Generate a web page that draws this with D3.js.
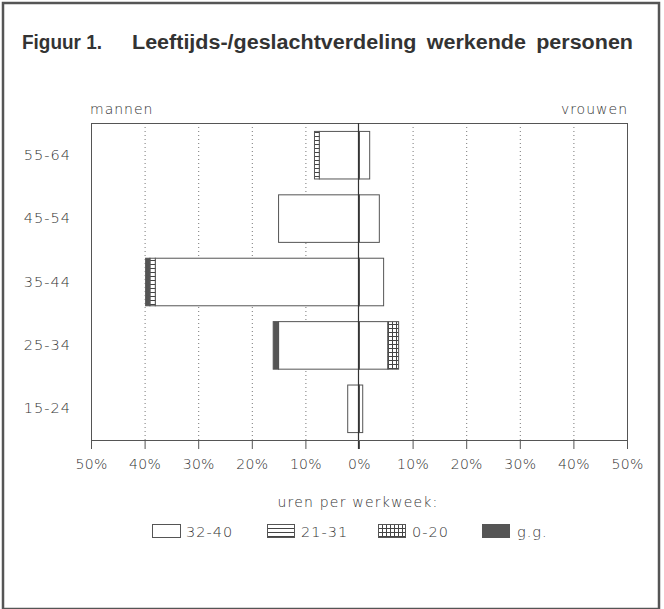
<!DOCTYPE html>
<html><head><meta charset="utf-8">
<script src="https://cdn.jsdelivr.net/npm/d3@7"></script>
<style>
body{margin:0;background:#fff;}
svg{display:block;}
.lt{font-family:"DejaVu Sans",Lato,sans-serif;font-weight:200;fill:#333;}
</style></head>
<body>
<script>
// ---- data ----
const categories = ["55-64","45-54","35-44","25-34","15-24"];
const hourGroups = ["32-40","21-31","0-20","g.g."];
const men_32_40   = [7.5, 15.1, 38.1, 15.1, 2.2];
const men_21_31   = [0.9, 0,    1.0,  0,    0];
const men_0_20    = [0,   0,    0,    0,    0];
const men_gg      = [0,   0,    0.8,  1.0,  0];
const women_32_40 = [1.9, 3.7,  4.5,  5.3,  0.6];
const women_21_31 = [0,   0,    0,    0,    0];
const women_0_20  = [0,   0,    0,    2.0,  0];
const women_gg    = [0,   0,    0,    0,    0];
const tickValues = [-50,-40,-30,-20,-10,0,10,20,30,40,50];
const tickLabels = ["50%","40%","30%","20%","10%","0%","10%","20%","30%","40%","50%"];
const titleA = "Figuur 1.";
const titleB = "Leeftijds-/geslachtverdeling werkende personen";
const legendTitle = "uren per werkweek:";

const W = 664, H = 609;
const svg = d3.select("body").append("svg").attr("width", W).attr("height", H);
const defs = svg.append("defs");

// patterns
const ph = defs.append("pattern").attr("id","p2131").attr("patternUnits","userSpaceOnUse")
  .attr("width",4).attr("height",4);
ph.append("rect").attr("width",4).attr("height",4).attr("fill","#fff");
ph.append("line").attr("x1",0).attr("x2",4).attr("y1",0.5).attr("y2",0.5).attr("stroke","#444").attr("stroke-width",1);
const pg = defs.append("pattern").attr("id","p020").attr("patternUnits","userSpaceOnUse")
  .attr("width",4).attr("height",4);
pg.append("rect").attr("width",4).attr("height",4).attr("fill","#fff");
pg.append("line").attr("x1",0).attr("x2",4).attr("y1",0.5).attr("y2",0.5).attr("stroke","#444");
pg.append("line").attr("y1",0).attr("y2",4).attr("x1",0.5).attr("x2",0.5).attr("stroke","#444");
const fills = {"32-40":"#fff","21-31":"url(#p2131)","0-20":"url(#p020)","g.g.":"#555"};

// outer frame
svg.append("rect").attr("x",3).attr("y",3).attr("width",656).attr("height",606)
  .attr("fill","none").attr("stroke","#555").attr("stroke-width",2.5);

// title
svg.append("text").attr("x",22).attr("y",49).text(titleA)
  .attr("textLength",80).attr("lengthAdjust","spacingAndGlyphs")
  .style("font-family","'Liberation Sans',Arial,sans-serif").style("font-weight","bold")
  .style("font-size","20px").attr("fill","#333");
svg.append("text").attr("x",132).attr("y",49).text(titleB)
  .attr("textLength",501).attr("lengthAdjust","spacingAndGlyphs")
  .style("font-family","'Liberation Sans',Arial,sans-serif").style("font-weight","bold")
  .style("font-size","20px").style("word-spacing","4px").attr("fill","#333");

// scales
const x = d3.scaleLinear().domain([-50,50]).range([91,627]);
const y = d3.scaleBand().domain(categories).range([123,440]).paddingInner(0.25).paddingOuter(0.125);

const g = svg.append("g");

// grid (dotted)
g.selectAll("line.grid").data(tickValues.filter(v=>v!==0 && Math.abs(v)!==50)).join("line")
  .attr("class","grid").attr("x1",d=>x(d)+0.5).attr("x2",d=>x(d)+0.5)
  .attr("y1",123).attr("y2",440).attr("stroke","#777").attr("stroke-width",1)
  .attr("stroke-dasharray","1,3");

// frame of plot
g.append("rect").attr("x",x(-50)+0.5).attr("y",123.5).attr("width",x(50)-x(-50)).attr("height",440-123)
  .attr("fill","none").attr("stroke","#555").attr("stroke-width",1);

// bars: stack outward from center
function segs(side, arrs){
  const out = [];
  categories.forEach((c,i)=>{
    let acc = 0;
    hourGroups.forEach((k,j)=>{
      const v = arrs[j][i];
      if (v>0){
        const a = acc, b = acc+v;
        out.push({cat:c,key:k,a: side<0?-b:a, b: side<0?-a:b});
        acc = b;
      }
    });
  });
  return out;
}
const menSegs = segs(-1,[men_32_40,men_21_31,men_0_20,men_gg]);
const womenSegs = segs(1,[women_32_40,women_21_31,women_0_20,women_gg]);
g.selectAll("rect.seg").data(menSegs.concat(womenSegs)).join("rect")
  .attr("class","seg")
  .attr("x",d=>x(d.a)+0.5).attr("width",d=>x(d.b)-x(d.a))
  .attr("y",d=>y(d.cat)+0.5).attr("height",y.bandwidth())
  .attr("fill",d=>fills[d.key]).attr("stroke","#555").attr("stroke-width",1);

// zero line
g.append("line").attr("x1",x(0)-0.5).attr("x2",x(0)-0.5).attr("y1",123).attr("y2",449)
  .attr("stroke","#333").attr("stroke-width",1.2);

// x axis
const xa = svg.append("g").attr("transform","translate(0,440)")
  .call(d3.axisBottom(x).tickValues(tickValues).tickFormat((d,i)=>tickLabels[i]).tickSize(9).tickPadding(10));
xa.select(".domain").attr("stroke","#555");
xa.selectAll(".tick line").attr("stroke","#555");
xa.selectAll(".tick text").attr("class","lt").style("font-size","14px").style("letter-spacing","0.3px").attr("fill","#333");

// y labels
svg.selectAll("text.cat").data(categories).join("text").attr("class","cat lt")
  .attr("x",71).attr("y",d=>y(d)+y.bandwidth()/2+5).attr("text-anchor","end")
  .style("font-size","14.5px").style("letter-spacing","1px").text(d=>d);

// side labels
svg.append("text").attr("class","lt").attr("x",90).attr("y",114).style("font-size","14px")
  .style("letter-spacing","1px").text("mannen");
svg.append("text").attr("class","lt").attr("x",628).attr("y",114).attr("text-anchor","end")
  .style("font-size","14px").style("letter-spacing","1px").text("vrouwen");

// legend
svg.append("text").attr("class","lt").attr("x",358).attr("y",507).attr("text-anchor","middle")
  .style("font-size","14px").style("letter-spacing","1.2px").text(legendTitle);
const legX = [152, 267, 378, 482];
const lg = svg.selectAll("g.leg").data(hourGroups).join("g").attr("class","leg")
  .attr("transform",(d,i)=>`translate(${legX[i]},524)`);
lg.append("rect").attr("x",0.5).attr("y",0.5).attr("width",d=>d==="32-40"?28:27).attr("height",13)
  .attr("fill",d=>fills[d]).attr("stroke","#555");
lg.append("text").attr("class","lt").attr("x",(d,i)=>i===3?35:34).attr("y",13)
  .style("font-size","14.5px").style("letter-spacing","1px").text(d=>d);
</script>
</body></html>
